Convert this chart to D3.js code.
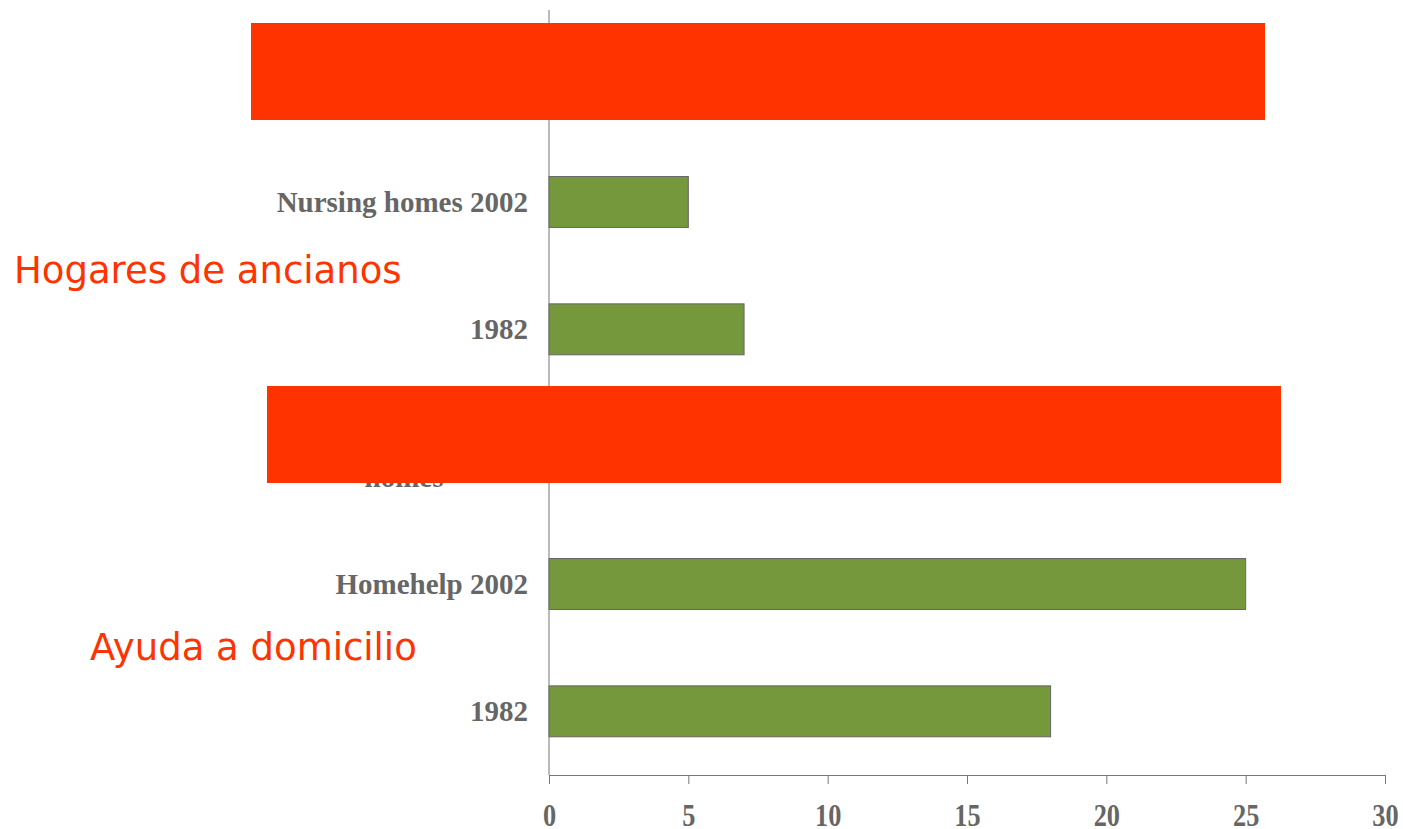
<!DOCTYPE html>
<html lang="en">
<head>
<meta charset="utf-8">
<script src="https://d3js.org/d3.v7.min.js"></script>
<style>
  body { margin: 0; background: #fff; }
</style>
</head>
<body>
<div id="chart"></div>
<script>
  // rows from top to bottom; first line of multi-line labels is hidden under the red boxes
  var categories = ["Total 2002", "Nursing homes 2002", "1982", "Service homes", "Homehelp 2002", "1982"];
  var values = [20, 5, 7, 8, 25, 18];
  var xTicks = [0, 5, 10, 15, 20, 25, 30];
  var notes = ["Hogares de ancianos", "Ayuda a domicilio"];

  var width = 1403, height = 829;
  var plotLeft = 549, plotRight = 1385, plotTop = 11, plotBottom = 775;

  var svg = d3.select('#chart').append('svg')
    .attr('width', width)
    .attr('height', height);

  var x = d3.scaleLinear().domain([0, 30]).range([plotLeft, plotRight]);
  var y = d3.scaleBand().domain(d3.range(categories.length)).range([plotTop, plotBottom]).paddingInner(0.6).paddingOuter(0.3);

  // bars
  svg.selectAll('.bar')
    .data(values)
    .enter().append('rect')
    .attr('class', 'bar')
    .attr('x', x(0))
    .attr('y', function (d, i) { return y(i); })
    .attr('width', function (d) { return x(d) - x(0); })
    .attr('height', y.bandwidth())
    .attr('fill', '#75983d')
    .attr('stroke', '#666')
    .attr('stroke-width', 1);

  // x axis
  var xAxis = svg.append('g')
    .attr('transform', 'translate(0,' + plotBottom + ')')
    .call(d3.axisBottom(x).tickValues(xTicks).tickSize(9).tickPadding(20).tickSizeOuter(0));
  xAxis.select('.domain').attr('stroke', '#777');
  xAxis.selectAll('.tick line').attr('stroke', '#777');
  xAxis.selectAll('.tick text')
    .attr('fill', '#666')
    .style('font-family', '"Liberation Serif", serif')
    .style('font-weight', 'bold')
    .style('font-size', '31px')
    .attr('transform', 'scale(0.85,1)');

  // y axis line
  svg.append('line')
    .attr('x1', plotLeft).attr('x2', plotLeft)
    .attr('y1', 10).attr('y2', plotBottom)
    .attr('stroke', '#777');

  // category labels
  categories.forEach(function (c, i) {
    var cy = y(i) + y.bandwidth() / 2;
    var t = svg.append('text')
      .attr('fill', '#666')
      .style('font-family', '"Liberation Serif", serif')
      .style('font-weight', 'bold')
      .style('font-size', '29px');
    if (i === 3) {
      var lines = c.split(' ');
      t.attr('text-anchor', 'middle').attr('x', 404).attr('y', cy - 3);
      lines.forEach(function (l, j) {
        t.append('tspan').attr('x', 404).attr('dy', j === 0 ? 0 : 33).text(l);
      });
    } else {
      t.attr('text-anchor', 'end').attr('x', 528).attr('y', cy + 10).text(c);
    }
  });

  // red cover boxes
  var covers = [[251, 23], [267, 386]];
  covers.forEach(function (b) {
    svg.append('rect')
      .attr('x', b[0]).attr('y', b[1])
      .attr('width', 1014).attr('height', 97)
      .attr('fill', '#ff3300');
  });

  // spanish notes
  svg.append('text').attr('x', 14).attr('y', 283).text(notes[0])
    .attr('fill', '#ff3300')
    .style('font-family', '"DejaVu Sans", sans-serif')
    .style('font-size', '37px');
  svg.append('text').attr('x', 90).attr('y', 660).text(notes[1])
    .attr('fill', '#ff3300')
    .style('font-family', '"DejaVu Sans", sans-serif')
    .style('font-size', '37px');
</script>
</body>
</html>
